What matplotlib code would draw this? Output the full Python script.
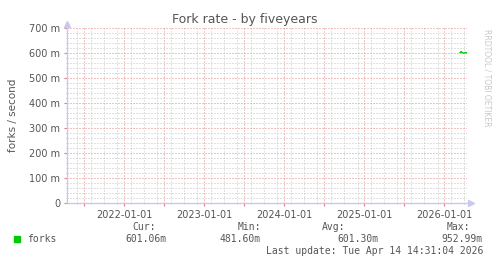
import datetime as dt
import matplotlib
matplotlib.use("Agg")
import matplotlib.pyplot as plt
import matplotlib.dates as mdates
from matplotlib.ticker import MultipleLocator, FuncFormatter

plt.rcParams["lines.scale_dashes"] = False

# valores (forks/s)
datas = [dt.datetime(2026, 3, 14), dt.datetime(2026, 3, 19), dt.datetime(2026, 3, 24),
         dt.datetime(2026, 3, 31), dt.datetime(2026, 4, 7), dt.datetime(2026, 4, 14)]
valores = [0.601, 0.606, 0.601, 0.600, 0.601, 0.601]

legenda_nome = "forks"
legenda_cab = ["Cur:", "Min:", "Avg:", "Max:"]
legenda_val = ["601.06m", "481.60m", "601.30m", "952.99m"]

x_ini = dt.datetime(2021, 4, 14, 14, 31)
x_fim = dt.datetime(2026, 4, 14, 14, 31)

cinza = "#555555"
verde = "#00cc00"
eixo = "#c8c8f0"

fig = plt.figure(figsize=(4.97, 2.64), dpi=100)
ax = fig.add_axes([67 / 497, 61 / 264, 400 / 497, 175 / 264])

ax.plot(datas, valores, color=verde, linewidth=1)

ax.set_xlim(x_ini, x_fim)
ax.set_ylim(0, 0.7)

ax.yaxis.set_major_locator(MultipleLocator(0.1))
ax.yaxis.set_minor_locator(MultipleLocator(0.02))
ax.yaxis.set_major_formatter(FuncFormatter(lambda v, p: "0" if v == 0 else f"{v * 1000:.0f} m"))

ax.xaxis.set_major_locator(mdates.MonthLocator(bymonth=(1, 7)))
ax.xaxis.set_minor_locator(mdates.MonthLocator(interval=2))
ax.xaxis.set_major_formatter(FuncFormatter(
    lambda v, p: mdates.num2date(v).strftime("%Y-%m-%d") if mdates.num2date(v).month == 1 else ""))

ponto = (0, (0.72, 1.44))
ax.grid(which="major", color="#e08a8a", linestyle=ponto, linewidth=0.72)
ax.grid(which="minor", color="#c4c4c4", linestyle=ponto, linewidth=0.72)
ax.set_axisbelow(True)

ax.tick_params(which="major", length=2, color="#e08080", labelsize=7, labelcolor=cinza, pad=3)
ax.tick_params(which="minor", length=1, color="#c0c0c0")

for s in ["top", "right"]:
    ax.spines[s].set_visible(False)
for s in ["left", "bottom"]:
    ax.spines[s].set_color(eixo)
    ax.spines[s].set_linewidth(1)

# setas dos eixos
ax.plot([0], [1.025], marker="^", color=eixo, markersize=4, transform=ax.transAxes, clip_on=False)
ax.plot([1.01], [0], marker=">", color=eixo, markersize=4, transform=ax.transAxes, clip_on=False)
ax.plot([0, 0], [1, 1.02], color=eixo, linewidth=1, transform=ax.transAxes, clip_on=False)

ax.set_ylabel("forks / second", fontsize=7.5, color=cinza, labelpad=8)

fig.text(245 / 497, 1 - 19 / 264, "Fork rate - by fiveyears", fontsize=9, color=cinza,
         ha="center", va="center")
fig.text(487 / 497, 1 - 78 / 264, "RRDTOOL / TOBI OETIKER", fontsize=5.5, color="#c8c8c8",
         rotation=270, ha="center", va="center")

# legenda estilo rrdtool
mono = "DejaVu Sans Mono"
fig.patches.append(plt.Rectangle((14 / 497, 1 - 242 / 264), 6 / 497, 6 / 264,
                                 transform=fig.transFigure, color=verde))
fig.text(27 / 497, 1 - 239 / 264, legenda_nome, fontsize=7, family=mono, color=cinza, va="center")
pos_cab = [156, 261, 345, 470]
pos_val = [167, 261, 379, 483]
for cab, val, xc, xv in zip(legenda_cab, legenda_val, pos_cab, pos_val):
    fig.text(xc / 497, 1 - 227 / 264, cab, fontsize=7, family=mono, color=cinza,
             ha="right", va="center")
    fig.text(xv / 497, 1 - 239 / 264, val, fontsize=7, family=mono, color=cinza,
             ha="right", va="center")
fig.text(483 / 497, 1 - 251 / 264, "Last update: Tue Apr 14 14:31:04 2026", fontsize=7,
         family=mono, color=cinza, ha="right", va="center")

fig.savefig("out.png", dpi=100, facecolor="white")
